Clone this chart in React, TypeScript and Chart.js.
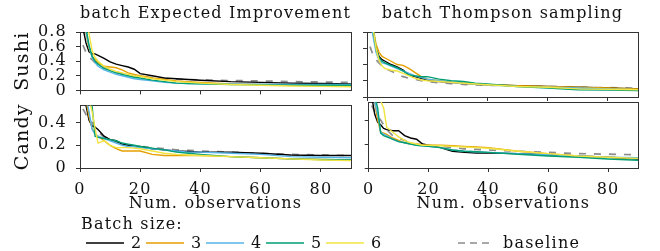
import React, { useEffect, useRef } from "react";
import { Chart, registerables } from "chart.js";

Chart.register(...registerables);

const FONT = "'DejaVu Serif', serif";

// Observation counts (shared x grid for all curves)
const OBS = [1, 2, 3, 4, 5, 6, 8, 10, 12, 14, 16, 18, 20, 24, 28, 32, 36, 40, 50, 60, 70, 80, 90];

const BATCH_SIZES = ["2", "3", "4", "5", "6"];
const COLORS = ["#000000", "#E69F00", "#56B4E9", "#009E73", "#F0E442"];
const BASELINE_COLOR = "#8c8c8c";

// Sushi – batch Expected Improvement
const eiSushi2 = [0.85, 0.65, 0.53, 0.5, 0.5, 0.48, 0.44, 0.39, 0.36, 0.34, 0.32, 0.29, 0.23, 0.2, 0.17, 0.16, 0.15, 0.14, 0.12, 0.11, 0.1, 0.095, 0.09];
const eiSushi3 = [1.0, 0.78, 0.58, 0.47, 0.42, 0.38, 0.33, 0.32, 0.31, 0.28, 0.24, 0.22, 0.2, 0.17, 0.15, 0.13, 0.12, 0.11, 0.09, 0.08, 0.07, 0.065, 0.06];
const eiSushi4 = [1.0, 0.8, 0.6, 0.45, 0.38, 0.33, 0.28, 0.25, 0.22, 0.2, 0.18, 0.16, 0.15, 0.13, 0.11, 0.1, 0.095, 0.09, 0.085, 0.085, 0.08, 0.08, 0.08];
const eiSushi5 = [1.0, 0.85, 0.62, 0.47, 0.4, 0.36, 0.3, 0.27, 0.24, 0.22, 0.2, 0.18, 0.17, 0.14, 0.12, 0.1, 0.095, 0.09, 0.08, 0.075, 0.07, 0.07, 0.07];
const eiSushi6 = [1.05, 0.95, 0.78, 0.55, 0.45, 0.4, 0.33, 0.29, 0.26, 0.24, 0.22, 0.2, 0.19, 0.16, 0.14, 0.12, 0.11, 0.1, 0.08, 0.07, 0.06, 0.055, 0.05];

// Sushi – batch Thompson sampling
const tsSushi2 = [0.95, 0.8, 0.6, 0.5, 0.46, 0.44, 0.4, 0.37, 0.33, 0.27, 0.25, 0.23, 0.21, 0.19, 0.18, 0.17, 0.16, 0.15, 0.14, 0.13, 0.12, 0.11, 0.1];
const tsSushi3 = [0.95, 0.85, 0.65, 0.55, 0.5, 0.48, 0.44, 0.4, 0.39, 0.35, 0.3, 0.25, 0.22, 0.2, 0.18, 0.17, 0.16, 0.15, 0.14, 0.13, 0.12, 0.11, 0.1];
const tsSushi4 = [0.95, 0.75, 0.55, 0.45, 0.42, 0.41, 0.38, 0.35, 0.32, 0.29, 0.26, 0.24, 0.22, 0.2, 0.18, 0.17, 0.16, 0.15, 0.13, 0.12, 0.11, 0.1, 0.09];
const tsSushi5 = [0.95, 0.85, 0.6, 0.48, 0.44, 0.42, 0.39, 0.36, 0.32, 0.27, 0.26, 0.25, 0.25, 0.22, 0.2, 0.19, 0.17, 0.16, 0.13, 0.11, 0.09, 0.085, 0.08];
const tsSushi6 = [0.95, 0.85, 0.6, 0.45, 0.38, 0.35, 0.33, 0.32, 0.29, 0.26, 0.23, 0.21, 0.2, 0.19, 0.18, 0.17, 0.16, 0.15, 0.13, 0.12, 0.1, 0.095, 0.09];

const sushiBaseline = [0.62, 0.52, 0.46, 0.42, 0.38, 0.35, 0.32, 0.28, 0.25, 0.23, 0.22, 0.2, 0.19, 0.175, 0.165, 0.155, 0.15, 0.145, 0.135, 0.13, 0.12, 0.115, 0.11];

// Candy – batch Expected Improvement
const eiCandy2 = [0.7, 0.55, 0.42, 0.37, 0.36, 0.34, 0.28, 0.25, 0.24, 0.21, 0.2, 0.19, 0.19, 0.17, 0.16, 0.15, 0.145, 0.14, 0.14, 0.13, 0.115, 0.11, 0.11];
const eiCandy3 = [0.7, 0.6, 0.45, 0.35, 0.3, 0.28, 0.24, 0.2, 0.17, 0.15, 0.15, 0.15, 0.15, 0.12, 0.11, 0.11, 0.11, 0.11, 0.1, 0.09, 0.08, 0.075, 0.07];
const eiCandy4 = [0.7, 0.62, 0.5, 0.34, 0.3, 0.28, 0.26, 0.24, 0.22, 0.2, 0.19, 0.19, 0.18, 0.17, 0.16, 0.15, 0.14, 0.14, 0.13, 0.12, 0.1, 0.095, 0.09];
const eiCandy5 = [0.7, 0.65, 0.6, 0.55, 0.28, 0.27, 0.26, 0.25, 0.24, 0.22, 0.21, 0.2, 0.19, 0.175, 0.16, 0.14, 0.13, 0.12, 0.1, 0.09, 0.08, 0.075, 0.07];
const eiCandy6 = [0.7, 0.65, 0.6, 0.5, 0.35, 0.22, 0.24, 0.2, 0.18, 0.18, 0.18, 0.175, 0.17, 0.15, 0.13, 0.12, 0.115, 0.11, 0.1, 0.09, 0.08, 0.07, 0.065];

// Candy – batch Thompson sampling
const tsCandy2 = [0.6, 0.45, 0.38, 0.36, 0.33, 0.32, 0.31, 0.31, 0.27, 0.25, 0.24, 0.2, 0.19, 0.17, 0.14, 0.13, 0.125, 0.125, 0.12, 0.11, 0.1, 0.09, 0.075];
const tsCandy3 = [0.65, 0.55, 0.4, 0.3, 0.29, 0.28, 0.25, 0.23, 0.21, 0.2, 0.2, 0.19, 0.19, 0.19, 0.185, 0.18, 0.175, 0.17, 0.14, 0.12, 0.1, 0.09, 0.08];
const tsCandy4 = [0.65, 0.55, 0.45, 0.3, 0.28, 0.27, 0.24, 0.22, 0.21, 0.2, 0.19, 0.185, 0.18, 0.17, 0.15, 0.14, 0.135, 0.13, 0.12, 0.11, 0.1, 0.09, 0.085];
const tsCandy5 = [0.65, 0.6, 0.5, 0.29, 0.27, 0.26, 0.24, 0.22, 0.21, 0.2, 0.19, 0.185, 0.18, 0.17, 0.15, 0.14, 0.135, 0.13, 0.115, 0.1, 0.09, 0.075, 0.065];
const tsCandy6 = [0.65, 0.6, 0.58, 0.56, 0.5, 0.34, 0.3, 0.26, 0.23, 0.21, 0.2, 0.19, 0.19, 0.185, 0.18, 0.175, 0.17, 0.165, 0.14, 0.12, 0.1, 0.09, 0.08];

const candyBaseline = [0.52, 0.47, 0.43, 0.4, 0.36, 0.32, 0.27, 0.25, 0.23, 0.21, 0.2, 0.195, 0.19, 0.18, 0.17, 0.16, 0.155, 0.15, 0.14, 0.13, 0.12, 0.115, 0.11];

const X_MAX = 90;
const X_TICK_STEP = 20;
const Y_TICK_STEP = 0.2;
const SUSHI_Y_MAX = 0.8;
const CANDY_Y_MAX = 0.55;

const AXIS_COLOR = "#333333";
const TEXT_COLOR = "#111111";
const FONT_SIZE = 16;
const Y_TITLE_SIZE = 19;
const LETTER_SPACING = "1.2px";

const spacingPlugin = {
  id: "letterSpacing",
  beforeLayout(chart: any) {
    chart.ctx.letterSpacing = LETTER_SPACING;
  },
  beforeDraw(chart: any) {
    chart.ctx.letterSpacing = LETTER_SPACING;
  },
};

type PanelProps = {
  series: number[][];
  baseline: number[];
  yMax: number;
  title?: string;
  yTitle?: string;
  showX: boolean;
  showY: boolean;
  left: number;
  top: number;
  width: number;
  height: number;
  padTop: number;
  yWidth: number;
  xHeight: number;
};

function Panel(p: PanelProps) {
  const ref = useRef<HTMLCanvasElement | null>(null);
  useEffect(() => {
    if (!ref.current) return;
    const font = { family: FONT, size: FONT_SIZE };
    const datasets: any[] = p.series.map((vals, i) => ({
      label: BATCH_SIZES[i],
      data: OBS.map((x, j) => ({ x, y: vals[j] })),
      borderColor: COLORS[i],
      borderWidth: 1.4,
      pointRadius: 0,
      fill: false,
      tension: 0,
      order: 5 - i,
    }));
    datasets.push({
      label: "baseline",
      data: OBS.map((x, j) => ({ x, y: p.baseline[j] })),
      borderColor: BASELINE_COLOR,
      borderWidth: 1.7,
      borderDash: [7, 8],
      pointRadius: 0,
      fill: false,
      tension: 0,
      order: 6,
    });
    const chart = new Chart(ref.current, {
      type: "line",
      data: { datasets },
      plugins: [spacingPlugin],
      options: {
        animation: false,
        responsive: false,
        maintainAspectRatio: false,
        layout: { padding: { top: p.padTop, right: 4, left: 0, bottom: 0 } },
        plugins: {
          legend: { display: false },
          tooltip: { enabled: false },
          title: p.title
            ? {
                display: true,
                text: p.title,
                fullSize: false,
                color: TEXT_COLOR,
                font: { family: FONT, size: FONT_SIZE, weight: "normal" },
                padding: { top: 4, bottom: 8.8 },
              }
            : { display: false },
        },
        scales: {
          x: {
            type: "linear",
            position: "bottom",
            min: 0,
            max: X_MAX,
            ticks: {
              stepSize: X_TICK_STEP,
              includeBounds: false,
              autoSkip: false,
              display: p.showX,
              padding: 8,
              color: TEXT_COLOR,
              font,
              maxRotation: 0,
            },
            grid: { drawOnChartArea: false, drawTicks: true, tickLength: 4, tickColor: AXIS_COLOR, tickWidth: 1 },
            border: { color: AXIS_COLOR, width: 1 },
            title: {
              display: p.showX,
              text: "Num. observations",
              color: TEXT_COLOR,
              font,
              padding: { top: 0, bottom: 4 },
            },
            afterFit: (s: any) => {
              s.height = p.xHeight;
            },
          },
          x2: {
            type: "linear",
            position: "top",
            min: 0,
            max: X_MAX,
            ticks: { display: false },
            grid: { drawOnChartArea: false, drawTicks: false },
            border: { color: AXIS_COLOR, width: 1 },
            afterFit: (s: any) => {
              s.height = 0;
            },
          },
          y: {
            type: "linear",
            position: "left",
            min: 0,
            max: p.yMax,
            ticks: {
              stepSize: Y_TICK_STEP,
              includeBounds: false,
              autoSkip: false,
              display: p.showY,
              padding: 9,
              color: TEXT_COLOR,
              font,
            },
            grid: { drawOnChartArea: false, drawTicks: true, tickLength: 4, tickColor: AXIS_COLOR, tickWidth: 1 },
            border: { color: AXIS_COLOR, width: 1 },
            title: p.yTitle
              ? {
                  display: true,
                  text: p.yTitle,
                  color: TEXT_COLOR,
                  font: { family: FONT, size: Y_TITLE_SIZE },
                  padding: { top: 12, bottom: 0 },
                }
              : { display: false },
            afterFit: (s: any) => {
              s.width = p.yWidth;
            },
          },
          y2: {
            type: "linear",
            position: "right",
            min: 0,
            max: p.yMax,
            ticks: { display: false },
            grid: { drawOnChartArea: false, drawTicks: false },
            border: { color: AXIS_COLOR, width: 1 },
            afterFit: (s: any) => {
              s.width = 0;
            },
          },
        },
      } as any,
    });
    return () => chart.destroy();
  }, []);
  return (
    <canvas
      ref={ref}
      width={p.width}
      height={p.height}
      style={{ position: "absolute", left: p.left, top: p.top, width: p.width, height: p.height }}
    />
  );
}

function LegendLine({ color, dashed }: { color: string; dashed?: boolean }) {
  return (
    <svg width={38} height={4} style={{ display: "block" }}>
      <line
        x1={0}
        y1={2}
        x2={dashed ? 36 : 38}
        y2={2}
        stroke={color}
        strokeWidth={dashed ? 1.7 : 1.5}
        strokeDasharray={dashed ? "7 5" : undefined}
      />
    </svg>
  );
}

export default function App() {
  const textStyle: React.CSSProperties = {
    position: "absolute",
    fontFamily: FONT,
    fontSize: FONT_SIZE,
    letterSpacing: LETTER_SPACING,
    lineHeight: "16px",
    color: TEXT_COLOR,
    whiteSpace: "nowrap",
  };
  return (
    <div style={{ position: "absolute", left: 0, top: 0, width: 660, height: 251, background: "#fff", overflow: "hidden" }}>
      <Panel
        series={[eiSushi2, eiSushi3, eiSushi4, eiSushi5, eiSushi6]}
        baseline={sushiBaseline}
        yMax={SUSHI_Y_MAX}
        title="batch Expected Improvement"
        yTitle="Sushi"
        showX={false}
        showY={true}
        left={0}
        top={0}
        width={355}
        height={109}
        padTop={0}
        yWidth={80}
        xHeight={12}
      />
      <Panel
        series={[tsSushi2, tsSushi3, tsSushi4, tsSushi5, tsSushi6]}
        baseline={sushiBaseline}
        yMax={SUSHI_Y_MAX}
        title="batch Thompson sampling"
        showX={false}
        showY={false}
        left={355}
        top={0}
        width={287}
        height={109}
        padTop={0}
        yWidth={12}
        xHeight={12}
      />
      <Panel
        series={[eiCandy2, eiCandy3, eiCandy4, eiCandy5, eiCandy6]}
        baseline={candyBaseline}
        yMax={CANDY_Y_MAX}
        yTitle="Candy"
        showX={true}
        showY={true}
        left={0}
        top={87}
        width={355}
        height={130}
        padTop={15}
        yWidth={80}
        xHeight={49}
      />
      <Panel
        series={[tsCandy2, tsCandy3, tsCandy4, tsCandy5, tsCandy6]}
        baseline={candyBaseline}
        yMax={CANDY_Y_MAX}
        showX={true}
        showY={false}
        left={355}
        top={87}
        width={287}
        height={130}
        padTop={15}
        yWidth={12}
        xHeight={49}
      />
      <div style={{ ...textStyle, left: 81, top: 216 }}>Batch size:</div>
      {BATCH_SIZES.map((b, i) => (
        <React.Fragment key={b}>
          <div style={{ position: "absolute", left: 86 + i * 60, top: 241 }}>
            <LegendLine color={COLORS[i]} />
          </div>
          <div style={{ ...textStyle, left: 131 + i * 60, top: 234.5 }}>{b}</div>
        </React.Fragment>
      ))}
      <div style={{ position: "absolute", left: 458, top: 241 }}>
        <LegendLine color={BASELINE_COLOR} dashed />
      </div>
      <div style={{ ...textStyle, left: 503, top: 234.5 }}>baseline</div>
    </div>
  );
}
